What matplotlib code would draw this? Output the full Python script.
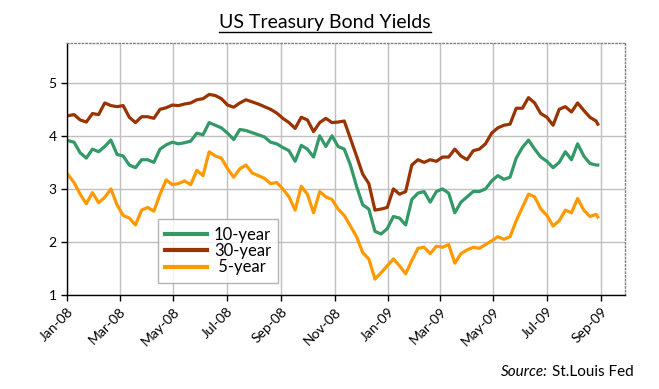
import matplotlib
matplotlib.use("Agg")
import matplotlib.pyplot as plt
import matplotlib.dates as mdates
from matplotlib.lines import Line2D
import pandas as pd

plt.rcParams['font.family'] = ['Lato', 'DejaVu Sans']

# weekly readings, Jan-08 .. end of Aug-09
dates = list(pd.date_range('2008-01-02', '2009-08-26', freq='7D')) + [pd.Timestamp('2009-08-28')]

yield_10y = [3.91, 3.88, 3.68, 3.58, 3.75, 3.70, 3.80, 3.92, 3.65, 3.62, 3.45, 3.40, 3.55,
             3.55, 3.50, 3.75, 3.83, 3.88, 3.85, 3.87, 3.90, 4.05, 4.02, 4.25, 4.20,
             4.15, 4.05, 3.93, 4.12, 4.10, 4.06, 4.02, 3.98, 3.88, 3.85, 3.78, 3.72, 3.52,
             3.82, 3.75, 3.60, 4.00, 3.80, 4.00, 3.80, 3.75, 3.45, 3.05, 2.70, 2.62,
             2.20, 2.15, 2.25, 2.48, 2.45, 2.32, 2.80, 2.92, 2.95, 2.75, 2.95, 3.00,
             2.92, 2.55, 2.75, 2.85, 2.95, 2.95, 3.00, 3.15, 3.25, 3.18, 3.22, 3.58,
             3.78, 3.92, 3.75, 3.60, 3.52, 3.40, 3.50, 3.70, 3.55, 3.85, 3.62, 3.48, 3.45, 3.45]

yield_30y = [4.38, 4.40, 4.30, 4.26, 4.42, 4.40, 4.62, 4.57, 4.55, 4.57, 4.35, 4.25, 4.36,
             4.36, 4.33, 4.50, 4.53, 4.58, 4.57, 4.60, 4.62, 4.68, 4.70, 4.78, 4.76,
             4.70, 4.58, 4.54, 4.62, 4.68, 4.64, 4.60, 4.55, 4.50, 4.43, 4.33, 4.25, 4.14,
             4.35, 4.30, 4.08, 4.25, 4.33, 4.25, 4.26, 4.28, 3.95, 3.62, 3.28, 3.10,
             2.60, 2.62, 2.65, 3.00, 2.90, 2.95, 3.45, 3.55, 3.50, 3.55, 3.52, 3.60,
             3.60, 3.75, 3.62, 3.55, 3.72, 3.75, 3.85, 4.05, 4.15, 4.20, 4.22, 4.52,
             4.52, 4.72, 4.62, 4.42, 4.35, 4.20, 4.50, 4.55, 4.45, 4.62, 4.48, 4.35, 4.28, 4.22]

yield_5y = [3.27, 3.12, 2.90, 2.72, 2.93, 2.74, 2.84, 3.00, 2.70, 2.50, 2.45, 2.32, 2.60,
            2.65, 2.58, 2.90, 3.17, 3.08, 3.10, 3.15, 3.08, 3.35, 3.25, 3.70, 3.62,
            3.58, 3.38, 3.22, 3.38, 3.45, 3.30, 3.25, 3.20, 3.10, 3.12, 3.00, 2.85, 2.60,
            3.05, 2.90, 2.55, 2.95, 2.85, 2.80, 2.62, 2.50, 2.30, 2.10, 1.80, 1.68,
            1.30, 1.42, 1.55, 1.68, 1.55, 1.40, 1.65, 1.88, 1.90, 1.78, 1.92, 1.90,
            1.95, 1.60, 1.78, 1.85, 1.90, 1.88, 1.95, 2.02, 2.10, 2.05, 2.10, 2.40,
            2.65, 2.90, 2.85, 2.62, 2.50, 2.30, 2.40, 2.60, 2.55, 2.82, 2.60, 2.48, 2.52, 2.47]

series_names = ['10-year', '30-year', ' 5-year']
series_colors = ['#339966', '#993300', '#FF9900']

fig = plt.figure(figsize=(6.59, 3.89), dpi=100)
ax = fig.add_axes([0.1017, 0.2416, 0.8467, 0.6479])

for vals, name, col in zip([yield_10y, yield_30y, yield_5y], series_names, series_colors):
    ax.plot(dates, vals, color=col, lw=2.3, label=name)

ax.set_xlim(pd.Timestamp('2008-01-01'), pd.Timestamp('2009-09-28'))
ax.set_ylim(1, 5.75)
ax.set_yticks([1, 2, 3, 4, 5])
ax.xaxis.set_major_locator(mdates.MonthLocator(bymonth=[1, 3, 5, 7, 9, 11]))
ax.xaxis.set_major_formatter(mdates.DateFormatter('%b-%y'))
ax.grid(True, color='#c0c0c0', lw=1)
ax.set_axisbelow(True)

for s in ['top', 'right']:
    ax.spines[s].set_color('#808080')
    ax.spines[s].set_linestyle(':')
    ax.spines[s].set_linewidth(1)
for s in ['left', 'bottom']:
    ax.spines[s].set_color('black')
    ax.spines[s].set_linewidth(1)

ax.tick_params(axis='both', direction='out', length=4, width=1, labelsize=10, colors='black')
plt.setp(ax.get_xticklabels(), rotation=45, ha='right', rotation_mode='anchor')

leg = ax.legend(loc='lower left', bbox_to_anchor=(0.163, 0.048), borderaxespad=0,
                fontsize=12, frameon=True, fancybox=False, edgecolor='#a0a0a0',
                handlelength=2.5, handletextpad=0.4, labelspacing=0.02, borderpad=0.45)
leg.get_frame().set_linewidth(1)
for h in leg.get_lines():
    h.set_linewidth(3)

# title with underline
title = fig.text(0.493, 0.943, 'US Treasury Bond Yields', ha='center', va='center', fontsize=14)

# source note: italic "Source:" then the rest
src = fig.text(0.962, 0.033, 'St.Louis Fed', ha='right', va='baseline', fontsize=11)

fig.canvas.draw()
r = fig.canvas.get_renderer()
bb = title.get_window_extent(r)
W, H = fig.bbox.width, fig.bbox.height
uy = (bb.y0 - 1) / H
fig.add_artist(Line2D([bb.x0 / W, bb.x1 / W], [uy, uy], color='black', lw=1))

sb = src.get_window_extent(r)
fig.text((sb.x0 - 4) / W, 0.033, 'Source:', ha='right', va='baseline', fontsize=11, style='italic')

fig.savefig('out.png', dpi=100)
